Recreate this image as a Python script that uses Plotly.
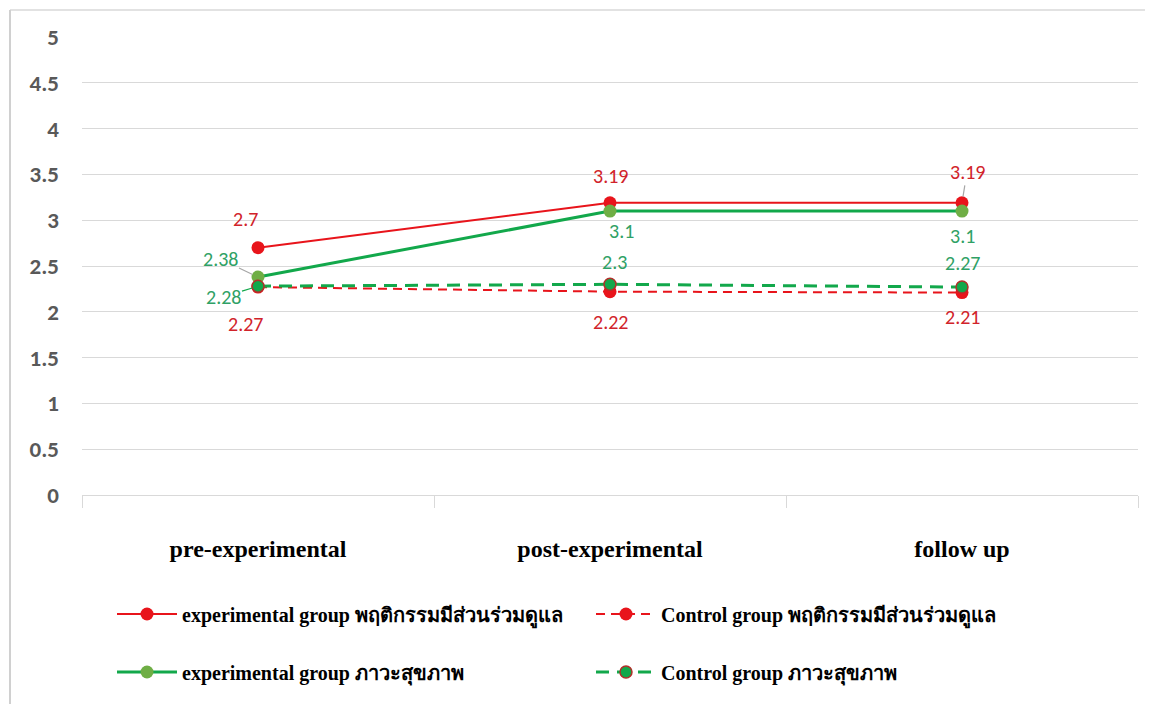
import plotly.graph_objects as go

categories = ["pre-experimental", "post-experimental", "follow up"]
exp_behavior = [2.7, 3.19, 3.19]
ctrl_behavior = [2.27, 2.22, 2.21]
exp_health = [2.38, 3.1, 3.1]
ctrl_health = [2.28, 2.3, 2.27]
y_ticks = [0, 0.5, 1, 1.5, 2, 2.5, 3, 3.5, 4, 4.5, 5]
names = [
    "experimental group พฤติกรรมมีส่วนร่วมดูแล",
    "Control group พฤติกรรมมีส่วนร่วมดูแล",
    "experimental group ภาวะสุขภาพ",
    "Control group ภาวะสุขภาพ",
]

RED = "#E8141B"
GREEN = "#12A84B"
OLIVE = "#6FAE45"
RED_TXT = "#D1232A"
GREEN_TXT = "#2FA165"

# page offset of 8px (body margin) is compensated in the margins below
W, H = 1145, 696
ML, MR, MT, MB = 74, 15, 29, 209
PW, PH = W - ML - MR, H - MT - MB
PL, PT = 8 + ML, 8 + MT          # plot-area left/top in page pixels
PB = PT + PH


def px_x(p):
    return (p - PL) / PW


def px_y(p):
    return (PB - p) / PH


fig = go.Figure()
fig.add_trace(go.Scatter(x=categories, y=exp_behavior, name=names[0], mode="lines+markers",
                         line=dict(color=RED, width=2), marker=dict(color=RED, size=13),
                         legend="legend"))
fig.add_trace(go.Scatter(x=categories, y=ctrl_behavior, name=names[1], mode="lines+markers",
                         line=dict(color=RED, width=2, dash="9px,6px"), marker=dict(color=RED, size=13),
                         legend="legend2"))
fig.add_trace(go.Scatter(x=categories, y=exp_health, name=names[2], mode="lines+markers",
                         line=dict(color=GREEN, width=3), marker=dict(color=OLIVE, size=13),
                         legend="legend3"))
fig.add_trace(go.Scatter(x=categories, y=ctrl_health, name=names[3], mode="lines+markers",
                         line=dict(color=GREEN, width=3, dash="13px,8px"),
                         marker=dict(color=GREEN, size=12, line=dict(color="#B0302A", width=1.5)),
                         legend="legend4"))

label_font = dict(family="Carlito, Lato, 'Open Sans', sans-serif", size=20)
# offsets (dx, dy) in pixels of each label from its point; leader colour or None
label_specs = [
    (exp_behavior, RED_TXT, [(-13, -29), (0, -27), (5, -31)], [None, None, "#A6A6A6"]),
    (ctrl_behavior, RED_TXT, [(-13, 37), (0, 30), (0, 24)], [None, None, None]),
    (exp_health, GREEN_TXT, [(-38, -18), (11, 20), (0, 25)], ["#A6A6A6", None, None]),
    (ctrl_health, GREEN_TXT, [(-35, 11), (4, -22), (0, -24)], [GREEN, None, None]),
]
for vals, col, offs, leaders in label_specs:
    for i, (v, (dx, dy), lead) in enumerate(zip(vals, offs, leaders)):
        if lead:
            fig.add_annotation(x=categories[i], y=v, ax=dx, ay=dy, text=str(v),
                               showarrow=True, arrowhead=0, arrowwidth=1.2, arrowcolor=lead,
                               standoff=6, font=dict(color=col, **label_font))
        else:
            fig.add_annotation(x=categories[i], y=v, text=str(v), showarrow=False,
                               xshift=dx, yshift=-dy, font=dict(color=col, **label_font))

# chart border (top and left edges visible)
fig.add_shape(type="line", xref="paper", yref="paper",
              x0=px_x(10), x1=px_x(1160), y0=px_y(10), y1=px_y(10),
              line=dict(color="#D9D9D9", width=1.5), layer="below")
fig.add_shape(type="line", xref="paper", yref="paper",
              x0=px_x(10), x1=px_x(10), y0=px_y(10), y1=px_y(710),
              line=dict(color="#D0D0D0", width=2), layer="below")

legend_font = dict(family="'Liberation Serif', 'Times New Roman', serif", size=20,
                   color="#000000", weight="bold")
row_y = [614, 672]
col_x = [112, 591]
legend_common = dict(orientation="h", xanchor="left", yanchor="middle", itemwidth=60,
                     font=legend_font, bgcolor="rgba(0,0,0,0)")

fig.update_layout(
    width=W, height=H,
    margin=dict(l=ML, r=MR, t=MT, b=MB, autoexpand=False),
    plot_bgcolor="white", paper_bgcolor="white",
    xaxis=dict(type="category", range=[-0.5, 2.5], showgrid=False,
               showline=True, linecolor="#D9D9D9", linewidth=1,
               ticks="outside", tickson="boundaries", ticklen=12, tickcolor="#D9D9D9",
               ticklabelstandoff=32,
               tickfont=dict(family="'Liberation Serif', 'Times New Roman', serif", size=24,
                             color="#000000", weight="bold")),
    yaxis=dict(range=[0, 5], tickvals=y_ticks, ticktext=[str(t) for t in y_ticks],
               showgrid=True, gridcolor="#D9D9D9", gridwidth=1, zeroline=False,
               showline=False, ticks="", ticklabelstandoff=22,
               tickfont=dict(family="Carlito, Lato, 'Open Sans', sans-serif", size=23,
                             color="#595959", weight="bold")),
    legend=dict(x=px_x(col_x[0]), y=px_y(row_y[0]), **legend_common),
    legend2=dict(x=px_x(col_x[1]), y=px_y(row_y[0]), **legend_common),
    legend3=dict(x=px_x(col_x[0]), y=px_y(row_y[1]), **legend_common),
    legend4=dict(x=px_x(col_x[1]), y=px_y(row_y[1]), **legend_common),
    showlegend=True,
)

fig.write_html("out.html")
